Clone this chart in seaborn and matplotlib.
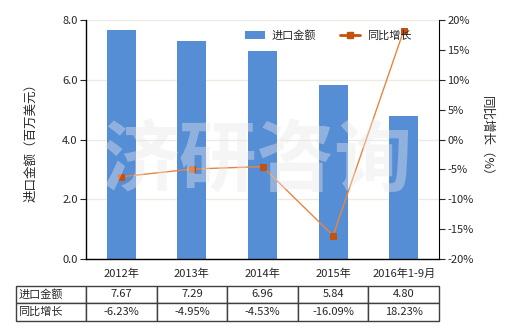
import matplotlib
matplotlib.use("Agg")
import matplotlib.pyplot as plt
import seaborn as sns
import pandas as pd
import numpy as np
from matplotlib.lines import Line2D
from matplotlib.patches import Patch

categories = ["2012年", "2013年", "2014年", "2015年", "2016年1-9月"]
import_values = [7.67, 7.29, 6.96, 5.84, 4.80]
growth_pct = [-6.23, -4.95, -4.53, -16.09, 18.23]
value_labels = ["7.67", "7.29", "6.96", "5.84", "4.80"]
growth_labels = ["-6.23%", "-4.95%", "-4.53%", "-16.09%", "18.23%"]
row_names = ["进口金额", "同比增长"]

sns.set_style("white")
plt.rcParams['font.family'] = ['Noto Sans CJK SC', 'DejaVu Sans']
plt.rcParams['axes.unicode_minus'] = False

W, H = 520, 330
fig = plt.figure(figsize=(W/100, H/100), dpi=100)
L, R, T, B = 86, 439, 20, 259
ax = fig.add_axes([L/W, 1-B/H, (R-L)/W, (B-T)/H])

df = pd.DataFrame({"cat": categories, "val": import_values})
bar_color = "#568ed6"
sns.barplot(data=df, x="cat", y="val", ax=ax, color=bar_color, width=0.41,
            saturation=1, edgecolor="none")
ax.set_xlim(-0.5, 4.5)
ax.set_ylim(0, 8)
ax.set_yticks([0, 2, 4, 6, 8])
ax.set_yticklabels(["0.0", "2.0", "4.0", "6.0", "8.0"], fontsize=8)
ax.set_xlabel("")
ax.set_ylabel("进口金额（百万美元）", fontsize=9, labelpad=18)
ax.tick_params(axis='x', labelsize=8, length=4, direction='out', pad=3)
ax.tick_params(axis='y', length=4, direction='out', pad=2, left=True)
ax.grid(axis='y', color='#ecebe3', linewidth=1)
ax.set_axisbelow(True)
for s in ["top", "right"]:
    ax.spines[s].set_visible(False)
for s in ["left", "bottom"]:
    ax.spines[s].set_color("black")
    ax.spines[s].set_linewidth(1)

ax2 = ax.twinx()
line_color = "#e8853f"
marker_color = "#c4510e"
gdf = pd.DataFrame({"x": np.arange(len(categories)), "g": growth_pct})
sns.lineplot(data=gdf, x="x", y="g", ax=ax2, color=line_color, linewidth=1,
             marker="s", markersize=5, markerfacecolor=marker_color,
             markeredgecolor=marker_color)
ax2.set_ylim(-20, 20)
ax2.set_yticks(range(-20, 21, 5))
ax2.set_yticklabels([f"{v}%" for v in range(-20, 21, 5)], fontsize=8)
ax2.set_ylabel("同比增长（%）", fontsize=9, rotation=270, labelpad=14)
ax2.tick_params(axis='y', length=4, direction='out', pad=2, right=True)
ax2.set_xlim(-0.5, 4.5)
ax2.set_xlabel("")
for s in ["top", "left", "bottom"]:
    ax2.spines[s].set_visible(False)
ax2.spines["right"].set_color("black")

# watermark
fig.text(0.495, 0.506, "济研咨询", fontsize=56, color="#e8e8e8", alpha=0.4,
         ha="center", va="center", fontweight="bold", zorder=10)

handles = [Patch(facecolor=bar_color, edgecolor="none"),
           Line2D([], [], color=marker_color, linewidth=2, marker="s",
                  markersize=4, markerfacecolor=marker_color)]
ax2.legend(handles, ["进口金额", "同比增长"], loc="upper right",
           bbox_to_anchor=(0.95, 1.0), ncol=2, frameon=False, fontsize=8,
           handlelength=1.8, columnspacing=2.2, handletextpad=0.6)

# data table
cell_text = [value_labels, growth_labels]
tbl_left = (16 - L) / (R - L)
tbl_w = (R - 16) / (R - L)
tbl_bottom = (B - 321) / (B - T)
tbl_h = 35.5 / (B - T)
rows = [[row_names[i]] + cell_text[i] for i in range(2)]
col_w = [70 / 423] + [70.6 / 423] * 5
tbl = ax.table(cellText=rows, colWidths=col_w, cellLoc="center",
               bbox=[tbl_left, tbl_bottom, tbl_w, tbl_h])
tbl.auto_set_font_size(False)
for (r, c), cell in tbl.get_celld().items():
    cell.set_fontsize(8)
    cell.set_edgecolor("#404040")
    cell.set_linewidth(1)
    if c == 0:
        cell.get_text().set_ha("left")
        cell.PAD = 0.03

fig.savefig("out.png", dpi=100)
